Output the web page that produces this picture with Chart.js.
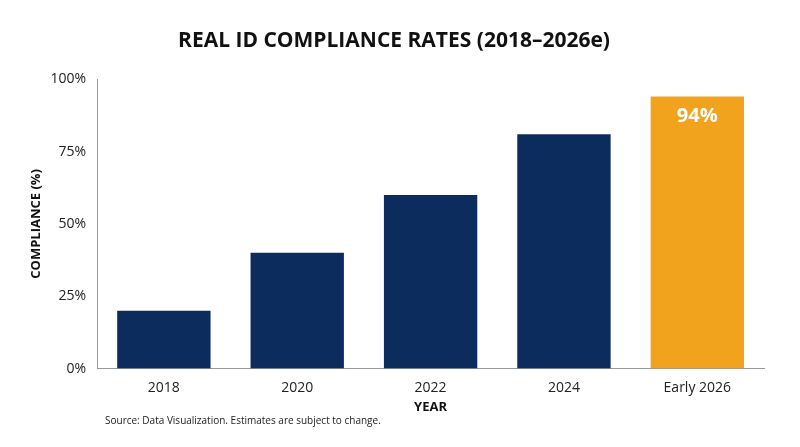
<!DOCTYPE html>
<html>
<head>
<meta charset="utf-8">
<script src="https://cdn.jsdelivr.net/npm/chart.js@4"></script>
<style>
body { margin: 0; background: #fff; }
#wrap { position: relative; width: 800px; height: 447px; }
#source { position: absolute; left: 105px; top: 413px; font: 10px "Open Sans", sans-serif; color: #222; }
</style>
</head>
<body>
<div id="wrap">
<canvas id="chart" width="800" height="447"></canvas>
<div id="source">Source: Data Visualization. Estimates are subject to change.</div>
</div>
<script>
var labels = ['2018', '2020', '2022', '2024', 'Early 2026']
var values = [20, 40, 60, 81, 94]
var colors = ['#0d2c5e', '#0d2c5e', '#0d2c5e', '#0d2c5e', '#f2a31d']
var ticks = [0, 25, 50, 75, 100]

var valueLabel = {
    id: 'valueLabel',
    afterDatasetsDraw(chart) {
        var c = chart.ctx
        var bar = chart.getDatasetMeta(0).data[4]
        c.save()
        c.fillStyle = '#fff'
        c.font = 'bold 20px "Open Sans", sans-serif'
        c.textAlign = 'center'
        c.textBaseline = 'top'
        c.fillText(values[4] + '%', bar.x, bar.y + 10)
        c.restore()
    }
}

var ctx = document.getElementById('chart').getContext('2d')
new Chart(ctx, {
    type: 'bar',
    data: {
        labels: labels,
        datasets: [{
            data: values,
            backgroundColor: colors,
            barPercentage: 0.7,
            categoryPercentage: 1
        }]
    },
    options: {
        responsive: false,
        animation: false,
        layout: { padding: { left: 24, right: 36, top: 28, bottom: 28 } },
        plugins: {
            legend: { display: false },
            tooltip: { enabled: false },
            title: {
                display: true,
                text: 'REAL ID COMPLIANCE RATES (2018–2026e)',
                color: '#111',
                font: { family: 'Open Sans', size: 21, weight: 'bold' },
                padding: { bottom: 26 }
            }
        },
        scales: {
            x: {
                grid: { display: false },
                border: { color: '#999' },
                ticks: { color: '#222', font: { family: 'Open Sans', size: 14 } },
                title: { display: true, text: 'YEAR', color: '#111', font: { family: 'Open Sans', size: 13, weight: 'bold' }, padding: { top: 0 } }
            },
            y: {
                min: 0, max: 100,
                afterBuildTicks(axis) { axis.ticks = ticks.map(v => ({ value: v })) },
                grid: { display: false },
                border: { color: '#999' },
                ticks: { color: '#222', font: { family: 'Open Sans', size: 14 }, callback: v => v + '%' },
                title: { display: true, text: 'COMPLIANCE (%)', color: '#111', font: { family: 'Open Sans', size: 13, weight: 'bold' } }
            }
        }
    },
    plugins: [valueLabel]
})
</script>
</body>
</html>
